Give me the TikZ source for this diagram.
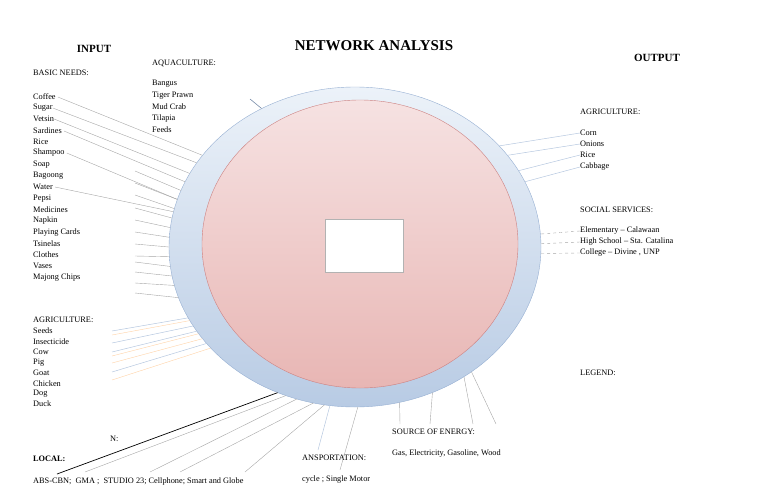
\documentclass[tikz,border=0pt]{standalone}
\usepackage{fontspec}
\setmainfont{Liberation Serif}
\usetikzlibrary{shapes.geometric}
\definecolor{ringtop}{RGB}{236,242,249}
\definecolor{ringbot}{RGB}{184,203,228}
\definecolor{ringedge}{RGB}{150,175,210}
\definecolor{pinktop}{RGB}{246,226,226}
\definecolor{pinkbot}{RGB}{232,182,180}
\definecolor{pinkedge}{RGB}{205,130,130}
\begin{document}
\begin{tikzpicture}[x=1pt,y=-1pt,
  lbl/.style={anchor=west,inner sep=0pt,font=\fontsize{8.3}{9}\selectfont},
  ttl/.style={inner sep=0pt,font=\bfseries\fontsize{11}{12}\selectfont},
  gl/.style={draw=gray!70,line width=0.4pt},
  bl/.style={draw=ringedge!70,line width=0.5pt},
  ol/.style={draw=orange!35,line width=0.4pt}]
\useasboundingbox (0,0) rectangle (768,503);
\node[ellipse,minimum width=372pt,minimum height=320pt,draw=ringedge,top color=ringtop,bottom color=ringbot,inner sep=0pt] (outer) at (355,247) {};
\node[ellipse,minimum width=316pt,minimum height=288pt,draw=pinkedge,top color=pinktop,bottom color=pinkbot,inner sep=0pt] (inner) at (360,244) {};
\node[draw=gray!60,fill=white,minimum width=78pt,minimum height=53pt,inner sep=0pt] (box) at (364,246) {};
\node[ttl,font=\bfseries\fontsize{15}{16}\selectfont] (title) at (374,46) {NETWORK ANALYSIS};
\node[ttl] (input) at (94,49) {INPUT};
\node[ttl] (output) at (657,58) {OUTPUT};
\node[lbl] (basic) at (33,73) {BASIC NEEDS:};
\node[lbl] (aqua) at (152,63) {AQUACULTURE:};
\foreach \t/\y/\n in {Bangus/84/a1,Tiger Prawn/96/a2,Mud Crab/107/a3,Tilapia/119/a4,Feeds/130/a5}
  \node[lbl] (\n) at (152,\y) {\t};
\foreach \t/\y/\n in {Coffee/97/b1,Sugar/108/b2,Vetsin/119/b3,Sardines/131/b4,Rice/142/b5,Shampoo/153/b6,Soap/165/b7,Bagoong/176/b8,Water/187/b9,Pepsi/199/b10,Medicines/210/b11,Napkin/221/b12,Playing Cards/233/b13,Tsinelas/244/b14,Clothes/255/b15,Vases/266/b16,Majong Chips/278/b17}
  \node[lbl] (\n) at (33,\y) {\t};
\node[lbl] (agri) at (33,320) {AGRICULTURE:};
\foreach \t/\y/\n in {Seeds/331/g1,Insecticide/342/g2,Cow/352/g3,Pig/363/g4,Goat/373/g5,Chicken/384/g6,Dog/394/g7,Duck/404/g8}
  \node[lbl] (\n) at (33,\y) {\t};
\node[lbl] (comm) at (110,439) {N:};
\node[lbl,font=\bfseries\fontsize{8.3}{9}\selectfont] (local) at (33,459) {LOCAL:};
\node[lbl] (media) at (33,481) {ABS-CBN;\ \ GMA ;\ \ STUDIO 23; Cellphone; Smart and Globe};
\node[lbl] (trans) at (302,458) {ANSPORTATION:};
\node[lbl] (cycle) at (302,480) {cycle ; Single Motor};
\node[lbl] (energy) at (392,432) {SOURCE OF ENERGY:};
\node[lbl] (fuels) at (392,454) {Gas, Electricity, Gasoline, Wood};
\node[lbl] (oagri) at (580,112) {AGRICULTURE:};
\foreach \t/\y/\n in {Corn/133/o1,Onions/144/o2,Rice/155/o3,Cabbage/167/o4}
  \node[lbl] (\n) at (580,\y) {\t};
\node[lbl] (social) at (580,210) {SOCIAL SERVICES:};
\node[lbl] (s1) at (580,231) {Elementary -- Calawaan};
\node[lbl] (s2) at (580,242) {High School -- Sta. Catalina};
\node[lbl] (s3) at (580,253) {College -- Divine , UNP};
\node[lbl] (legend) at (580,373) {LEGEND:};
% basic needs connectors
\draw[gl] (b1.east) ++(2,0) -- (outer.149);
\draw[gl] (b2.east) -- (outer.152);
\draw[gl] (b3.east) -- (outer.156);
\draw[gl] (b4.east) ++(2,0) -- (outer.159);
\draw[gl] (b6.east) ++(2,0) -- (outer.165);
\draw[gl] (b9.east) ++(2,0) -- (outer.169);
\foreach \y/\a in {171/162,183/165,195/168,208/171,220/174,232/177,244/180,256/183,262/186,272/189,283/192,293/196}{
  \coordinate (s\y) at (135,\y);
  \draw[gl] (s\y) -- (outer.\a);}
\coordinate (aq) at (250,99);
\draw[draw=ringedge!80!black,line width=0.6pt] (aq) -- (outer.124);
% agriculture connectors
\foreach \y/\a/\s in {331/203/bl,335/204/ol,343/206/bl,352/208/bl,356/209/ol,363/211/ol,372/213/bl,380/215/ol}{
  \coordinate (ag\y) at (112,\y);
  \draw[\s] (ag\y) -- (outer.\a);}
% communication
\coordinate (m0) at (57,474);
\draw[black,line width=0.7pt] (m0) -- (outer.242);
\foreach \x/\a in {85/245,150/249,180/255,245/259}{
  \coordinate (m\x) at (\x,472);
  \draw[gl] (m\x) -- (outer.\a);}
\coordinate (t1) at (318,450); \draw[bl] (t1) -- (outer.261);
\coordinate (t2) at (340,470); \draw[gl] (t2) -- (outer.271);
\foreach \x/\a in {400/286,430/298,473/310,496/313}{
  \coordinate (e\x) at (\x,424);
  \draw[gl] (e\x) -- (outer.\a);}
% outputs
\draw[bl] (o1.west) -- (outer.35);
\draw[bl] (o2.west) -- (outer.31);
\draw[bl] (o3.west) -- (outer.25);
\draw[bl] (o4.west) -- (outer.21);
\draw[gl,dashed] (s1.west) -- (outer.4);
\draw[gl,dashed] (s2.west) -- (outer.1);
\draw[gl,dashed] (s3.west) -- (outer.-2);
\end{tikzpicture}
\end{document}
